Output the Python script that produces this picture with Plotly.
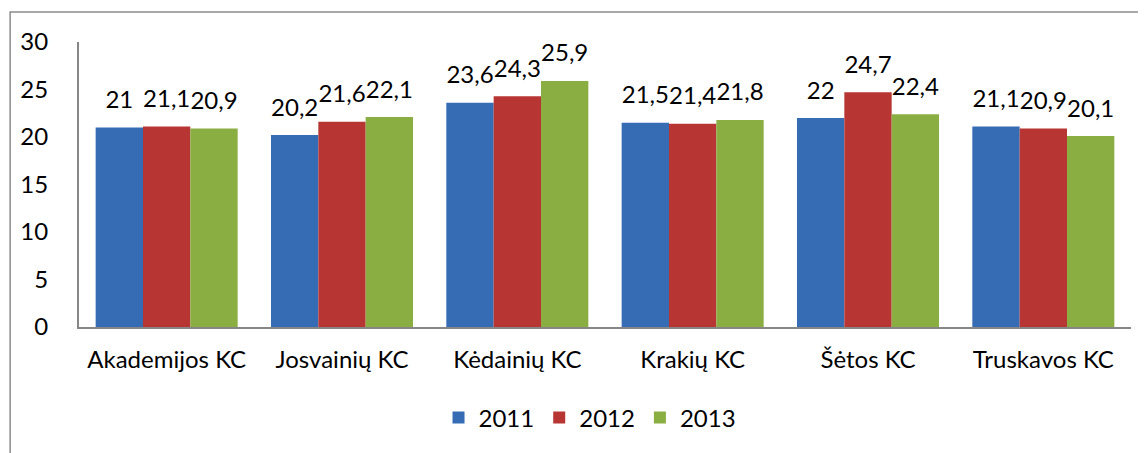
import plotly.graph_objects as go

categories = ["Akademijos KC", "Josvainių KC", "Kėdainių KC", "Krakių KC", "Šėtos KC", "Truskavos KC"]
series_names = ["2011", "2012", "2013"]
values_2011 = [21, 20.2, 23.6, 21.5, 22, 21.1]
values_2012 = [21.1, 21.6, 24.3, 21.4, 24.7, 20.9]
values_2013 = [20.9, 22.1, 25.9, 21.8, 22.4, 20.1]
colors = ["#356CB3", "#B73633", "#8BAE42"]

FONT = "Lato"
FS = 24
fig = go.Figure()
all_vals = [values_2011, values_2012, values_2013]
for name, vals, col in zip(series_names, all_vals, colors):
    fig.add_trace(go.Bar(
        x=categories, y=vals, name=name, marker=dict(color=col, line=dict(width=0)),
        offsetgroup=name, alignmentgroup="a",
    ))
for name, vals in zip(series_names, all_vals):
    labels = [("%g" % v).replace(".", ",") for v in vals]
    fig.add_trace(go.Scatter(
        x=categories, y=vals, mode="markers+text", text=labels,
        textposition="top center", offsetgroup=name, alignmentgroup="a",
        marker=dict(size=20, opacity=0), textfont=dict(size=FS, color="black", family=FONT),
        showlegend=False, hoverinfo="skip", cliponaxis=False,
    ))

# page body has an 8px margin; figure is placed at (8, 8)
OFF = 8
W, H = 1146 - OFF, 453 - OFF
L, R, T, B = 77 - OFF, 15, 42 - OFF, 126
pw, ph = W - L - R, H - T - B
fig.update_layout(
    width=W, height=H, margin=dict(l=L, r=R, t=T, b=B),
    paper_bgcolor="white", plot_bgcolor="white",
    barmode="group", bargap=0.19, bargroupgap=0, scattermode="group", scattergap=0.19,
    font=dict(family=FONT, size=FS, color="black"),
    showlegend=True,
    legend=dict(orientation="h", x=(589 - OFF - L) / pw, xanchor="center", y=(T + ph - (418 - OFF)) / ph,
                yanchor="middle", font=dict(size=FS, family=FONT), traceorder="normal"),
    xaxis=dict(showline=True, linecolor="#868686", linewidth=2, showgrid=False, ticks="",
               tickfont=dict(size=FS), ticklabelstandoff=10),
    yaxis=dict(range=[0, 30], dtick=5, showline=True, linecolor="#868686", linewidth=2,
               showgrid=False, zeroline=False, ticks="", tickfont=dict(size=FS), ticklabelstandoff=24),
    shapes=[dict(type="rect", xref="paper", yref="paper",
                 x0=(8 - OFF - L) / pw, x1=1.2, y0=-2, y1=1 + (T - (12 - OFF)) / ph,
                 line=dict(color="#8C8C8C", width=1.5), fillcolor="rgba(0,0,0,0)", layer="below")],
)
fig.write_html("out.html")
